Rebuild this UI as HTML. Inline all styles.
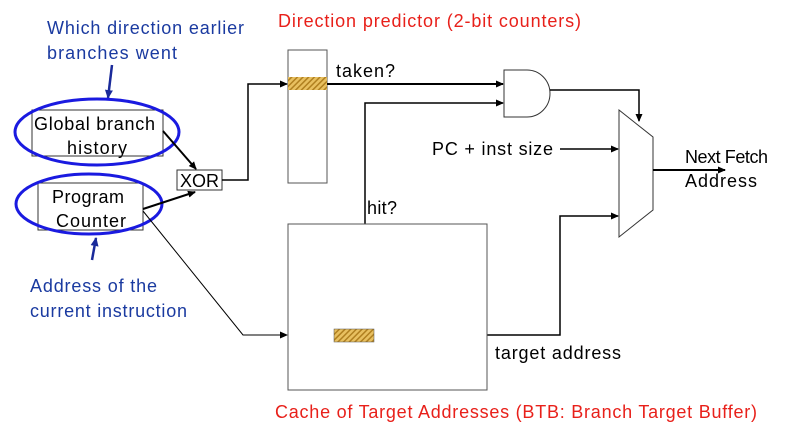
<!DOCTYPE html>
<html><head><style>body{margin:0;background:#fff}</style></head><body>
<svg width="802" height="436" xmlns="http://www.w3.org/2000/svg" font-family="Liberation Sans, sans-serif">
<defs>
<marker id="a" markerWidth="8" markerHeight="8" refX="7" refY="4" orient="auto" markerUnits="userSpaceOnUse"><path d="M0,0.5 L8,4 L0,7.5z" fill="#000"/></marker>
<marker id="b" markerWidth="10" markerHeight="10" refX="8" refY="5" orient="auto" markerUnits="userSpaceOnUse"><path d="M0,1 L9,5 L0,9z" fill="#1a2a9a"/></marker>
<pattern id="h" width="4" height="4" patternUnits="userSpaceOnUse" patternTransform="rotate(45)"><rect width="4" height="4" fill="#e8c060"/><rect width="1.5" height="4" fill="#b08020"/></pattern>
</defs>
<g font-size="18" lengthAdjust="spacingAndGlyphs">
<text x="47" y="34" fill="#1a3aa0" textLength="197">Which direction earlier</text>
<text x="47" y="59" fill="#1a3aa0" textLength="130">branches went</text>
<text x="278" y="27" fill="#e8201a" textLength="303">Direction predictor (2-bit counters)</text>
<text x="34" y="130" textLength="121">Global branch</text>
<text x="67" y="154" textLength="60">history</text>
<text x="52" y="203" textLength="72">Program</text>
<text x="56" y="227" textLength="70">Counter</text>
<text x="180" y="187" textLength="39">XOR</text>
<text x="30" y="292" fill="#1a3aa0" textLength="127">Address of the</text>
<text x="30" y="317" fill="#1a3aa0" textLength="157">current instruction</text>
<text x="336" y="77" textLength="59">taken?</text>
<text x="367" y="214" textLength="30">hit?</text>
<text x="432" y="155" textLength="121">PC + inst size</text>
<text x="685" y="163" textLength="83">Next Fetch</text>
<text x="685" y="187" textLength="72">Address</text>
<text x="495" y="359" textLength="126">target address</text>
<text x="275" y="418" fill="#e8201a" textLength="482">Cache of Target Addresses (BTB: Branch Target Buffer)</text>
</g>
<line x1="112" y1="65" x2="108" y2="98" stroke="#1a2a9a" stroke-width="2.5" marker-end="url(#b)"/>
<rect x="32" y="110" width="131" height="46" fill="none" stroke="#333"/>
<ellipse cx="97" cy="132" rx="82" ry="33" fill="none" stroke="#1a1ae0" stroke-width="3"/>
<rect x="38" y="183" width="105" height="47" fill="none" stroke="#333"/>
<ellipse cx="89" cy="204" rx="73" ry="30" fill="none" stroke="#1a1ae0" stroke-width="3"/>
<line x1="92" y1="260" x2="96" y2="238" stroke="#1a2a9a" stroke-width="2.5" marker-end="url(#b)"/>
<rect x="177" y="170" width="45" height="20" fill="none" stroke="#333"/>
<line x1="163" y1="131" x2="196" y2="169" stroke="#000" stroke-width="2" marker-end="url(#a)"/>
<line x1="143" y1="209" x2="195" y2="192" stroke="#000" stroke-width="2" marker-end="url(#a)"/>
<polyline points="222,180 248,180 248,84 287,84" fill="none" stroke="#000" stroke-width="1.5" marker-end="url(#a)"/>
<polyline points="143,211 243,335 287,335" fill="none" stroke="#000" stroke-width="1" marker-end="url(#a)"/>
<rect x="288" y="50" width="39" height="133" fill="none" stroke="#555"/>
<rect x="288" y="77" width="39" height="13" fill="url(#h)"/>
<line x1="327" y1="84" x2="503" y2="84" stroke="#000" stroke-width="2" marker-end="url(#a)"/>
<path d="M504,70 L527,70 A23,23.5 0 0 1 527,117 L504,117 Z" fill="#fff" stroke="#333"/>
<polyline points="365,224 365,103 503,103" fill="none" stroke="#000" stroke-width="1.5" marker-end="url(#a)"/>
<polyline points="550,90 639,90 639,121" fill="none" stroke="#000" stroke-width="1.5" marker-end="url(#a)"/>
<path d="M619,110 L653,137 L653,210 L619,237 Z" fill="#fff" stroke="#333"/>
<line x1="560" y1="149" x2="618" y2="149" stroke="#000" stroke-width="1.5" marker-end="url(#a)"/>
<polyline points="487,335 560,335 560,216 618,216" fill="none" stroke="#000" stroke-width="1.5" marker-end="url(#a)"/>
<line x1="653" y1="170" x2="725" y2="170" stroke="#000" stroke-width="2" marker-end="url(#a)"/>
<rect x="288" y="224" width="199" height="166" fill="none" stroke="#555"/>
<rect x="334" y="329" width="40" height="13" fill="url(#h)" stroke="#555" stroke-width="0.5"/>
</svg>
</body></html>
